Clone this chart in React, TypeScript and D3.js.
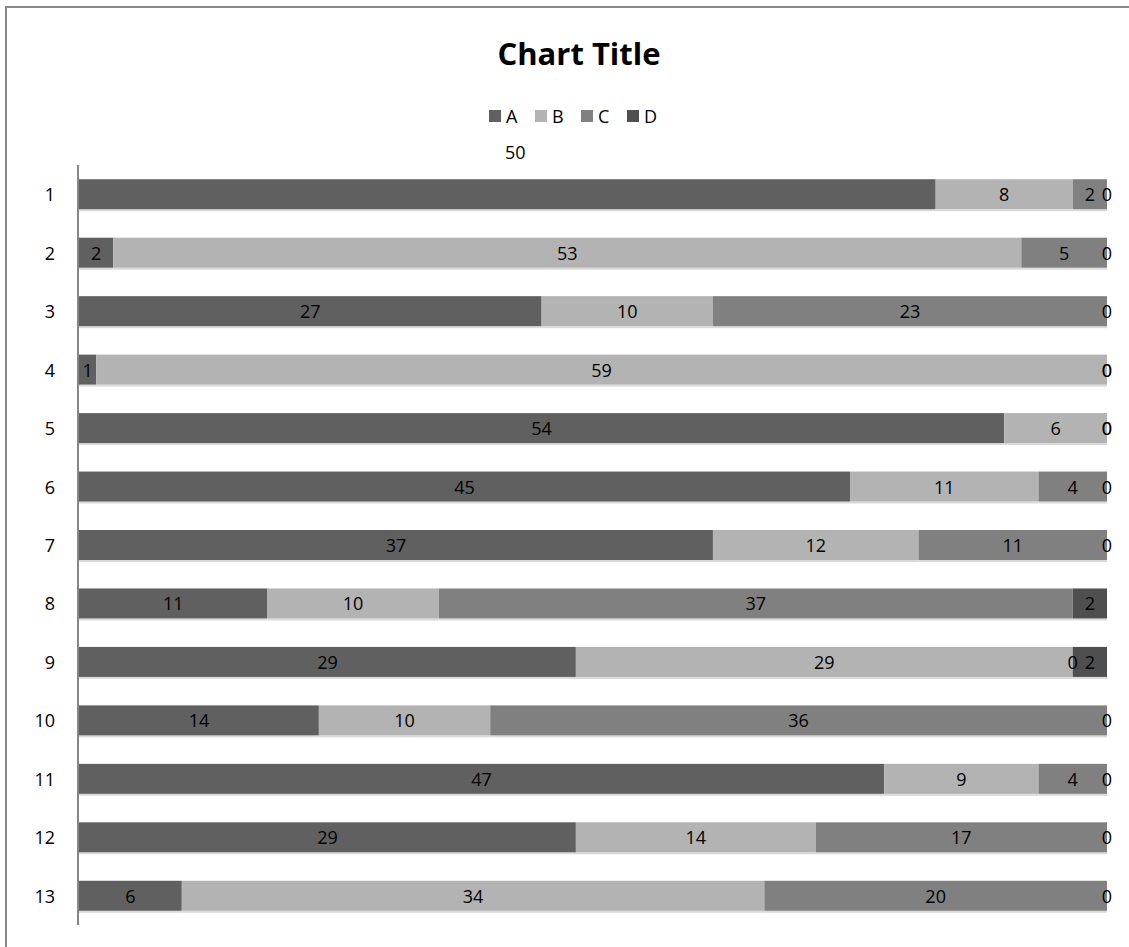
import React from "react";
import * as d3 from "d3";

const categories = ["1", "2", "3", "4", "5", "6", "7", "8", "9", "10", "11", "12", "13"];
const seriesNames = ["A", "B", "C", "D"];
const valuesA = [50, 2, 27, 1, 54, 45, 37, 11, 29, 14, 47, 29, 6];
const valuesB = [8, 53, 10, 59, 6, 11, 12, 10, 29, 10, 9, 14, 34];
const valuesC = [2, 5, 23, 0, 0, 4, 11, 37, 0, 36, 4, 17, 20];
const valuesD = [0, 0, 0, 0, 0, 0, 0, 2, 2, 0, 0, 0, 0];
const colors = ["#606060", "#b3b3b3", "#808080", "#4f4f4f"];

const W = 1129;
const H = 947;
const FONT = "'Open Sans', 'Noto Sans', sans-serif";

export default function App() {
  const rows = categories.map((c, i) => ({
    cat: c,
    A: valuesA[i],
    B: valuesB[i],
    C: valuesC[i],
    D: valuesD[i],
  }));
  const stack = d3.stack<any>().keys(seriesNames)(rows);
  const x = d3.scaleLinear().domain([0, 60]).range([79, 1107]);
  const y = d3.scaleBand().domain(categories).range([165, 925]).paddingInner(0.487).paddingOuter(0.2435);
  const bw = y.bandwidth();

  return (
    <svg
      width={W}
      height={H}
      style={{ position: "absolute", left: 0, top: 0, background: "#fff" }}
      fontFamily={FONT}
    >
      <rect x={6} y={7} width={1300} height={1100} fill="#fff" stroke="#888" strokeWidth={2} />
      <text x={579} y={65} textAnchor="middle" fontSize={31} fontWeight="bold" fill="#000">
        Chart Title
      </text>
      {seriesNames.map((s, i) => (
        <g key={s} transform={`translate(${489 + i * 46},110)`}>
          <rect x={0} y={0} width={12} height={12} fill={colors[i]} />
          <text x={17} y={13} fontSize={18} fill="#000">
            {s}
          </text>
        </g>
      ))}
      {stack.map((layer, si) => (
        <g key={layer.key}>
          {layer.map((d, ri) => {
            const cat = categories[ri];
            const y0 = y(cat)!;
            return (
              <g key={cat}>
                <rect x={x(d[0])} y={y0 + bw} width={x(d[1]) - x(d[0])} height={2} fill="#dadada" />
                <rect x={x(d[0])} y={y0} width={x(d[1]) - x(d[0])} height={bw} fill={colors[si]} />
              </g>
            );
          })}
        </g>
      ))}
      {stack.map((layer) => (
        <g key={"l" + layer.key}>
          {layer.map((d, ri) => {
            const cat = categories[ri];
            const v = d[1] - d[0];
            let cx = x((d[0] + d[1]) / 2);
            let cy = y(cat)! + bw / 2 + 7;
            if (layer.key === "A" && ri === 0) {
              cx = x(v / 2) + 8;
              cy = y.range()[0] - 6;
            }
            return (
              <text key={cat} x={cx} y={cy} textAnchor="middle" fontSize={18} fill="#000">
                {v}
              </text>
            );
          })}
        </g>
      ))}
      <line x1={78} x2={78} y1={165} y2={925} stroke="#868686" strokeWidth={2} />
      {categories.map((c) => (
        <text key={c} x={55} y={y(c)! + bw / 2 + 7} textAnchor="end" fontSize={18} fill="#000">
          {c}
        </text>
      ))}
    </svg>
  );
}
